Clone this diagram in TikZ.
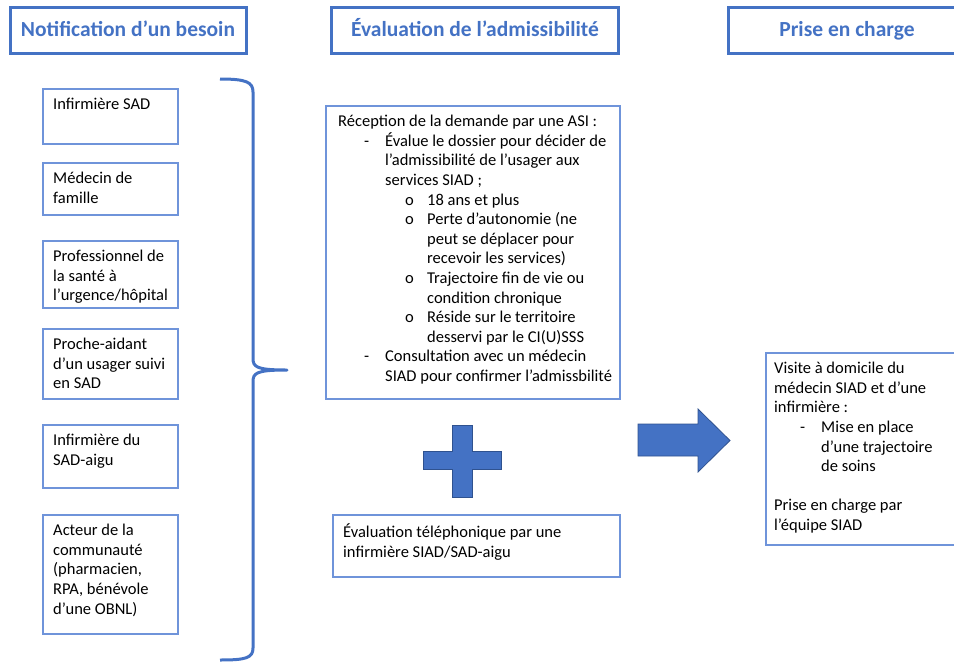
\documentclass[tikz,border=0pt]{standalone}
\usepackage{fontspec}
\setmainfont{Carlito}
\usepackage{tikz}

\definecolor{bleu}{HTML}{4472C4}
\definecolor{bleufonce}{HTML}{2F528F}
\definecolor{trait}{HTML}{6F94DA}

\newcommand{\tir}{\hspace*{26pt}\makebox[21pt][l]{-}}
\newcommand{\tirsuite}{\hspace*{47pt}}
\newcommand{\rond}{\hspace*{67pt}\makebox[22pt][l]{o}}
\newcommand{\rondsuite}{\hspace*{89pt}}

\begin{document}
\begin{tikzpicture}[x=1pt,y=-1pt,
	titre/.style={draw=bleu,line width=3pt,minimum height=46pt,text height=17pt,text depth=4pt,text=bleu,font=\fontsize{21.5}{26}\selectfont\bfseries},
	cadre/.style={draw=trait,line width=1.5pt,anchor=north west},
	texte/.style={anchor=north west,align=left,inner xsep=11pt,inner ysep=10pt,font=\fontsize{16.5}{19.6}\selectfont}]
	\clip (0,0) rectangle (954,662);

	\node[titre,minimum width=236pt] (notif) at (128,30) {Notification d’un besoin};
	\node[titre,minimum width=287pt] (admis) at (475,30) {Évaluation de l’admissibilité};
	\node[titre,minimum width=238pt] (prise) at (847,30) {Prise en charge};

	\node[cadre,minimum width=135pt,minimum height=55pt] (infsad) at (42,88) {};
	\node[cadre,minimum width=135pt,minimum height=52pt] (medfam) at (42,162) {};
	\node[cadre,minimum width=135pt,minimum height=67pt] (prof) at (42,240) {};
	\node[cadre,minimum width=135pt,minimum height=70pt] (proche) at (42,328) {};
	\node[cadre,minimum width=135pt,minimum height=63pt] (infaigu) at (42,424) {};
	\node[cadre,minimum width=135pt,minimum height=119pt] (acteur) at (42,514) {};

	\node[texte] (tinfsad) at (infsad.north west) {Infirmière SAD};
	\node[texte] (tmedfam) at (medfam.north west) {Médecin de\\famille};
	\node[texte] (tprof) at (prof.north west) {Professionnel de\\la santé à\\l’urgence/hôpital};
	\node[texte] (tproche) at (proche.north west) {Proche-aidant\\d’un usager suivi\\en SAD};
	\node[texte] (tinfaigu) at (infaigu.north west) {Infirmière du\\SAD-aigu};
	\node[texte] (tacteur) at (acteur.north west) {Acteur de la\\communauté\\(pharmacien,\\RPA, bénévole\\d’une OBNL)};

	\draw[bleu,line width=3pt,line join=round] (220,79) .. controls (246,79) and (253,82) .. (253,92) -- (253,358)
		.. controls (253,367) and (256,370) .. (287,370) .. controls (256,370) and (253,373) .. (253,382)
		-- (253,648) .. controls (253,658) and (246,660) .. (220,660);

	\node[cadre,minimum width=294pt,minimum height=293pt] (recep) at (325,105) {};
	\node[texte,inner xsep=13pt] (trecep) at (recep.north west) {Réception de la demande par une ASI :\\
		\tir Évalue le dossier pour décider de\\
		\tirsuite l’admissibilité de l’usager aux\\
		\tirsuite services SIAD ;\\
		\rond 18 ans et plus\\
		\rond Perte d’autonomie (ne\\
		\rondsuite peut se déplacer pour\\
		\rondsuite recevoir les services)\\
		\rond Trajectoire fin de vie ou\\
		\rondsuite condition chronique\\
		\rond Réside sur le territoire\\
		\rondsuite desservi par le CI(U)SSS\\
		\tir Consultation avec un médecin\\
		\tirsuite SIAD pour confirmer l’admissbilité};

	\fill[bleu,draw=bleufonce,line width=0.8pt] (452,425) -- (472,425) -- (472,451) -- (501,451) -- (501,469) -- (472,469)
		-- (472,497) -- (452,497) -- (452,469) -- (423,469) -- (423,451) -- (452,451) -- cycle;

	\node[cadre,minimum width=287pt,minimum height=62pt] (tele) at (332,514) {};
	\node[texte] (ttele) at (tele.north west) {Évaluation téléphonique par une\\infirmière SIAD/SAD-aigu};

	\fill[bleu,draw=bleufonce,line width=0.8pt] (638,424) -- (698,424) -- (698,409) -- (730,440.5) -- (698,472)
		-- (698,456) -- (638,456) -- cycle;

	\node[cadre,minimum width=200pt,minimum height=192pt] (visite) at (765,352) {};
	\node[texte,inner xsep=9pt] (tvisite) at (visite.north west) {Visite à domicile du\\
		médecin SIAD et d’une\\
		infirmière :\\
		\tir Mise en place\\
		\tirsuite d’une trajectoire\\
		\tirsuite de soins\\[19.6pt]
		Prise en charge par\\
		l’équipe SIAD};
\end{tikzpicture}
\end{document}
